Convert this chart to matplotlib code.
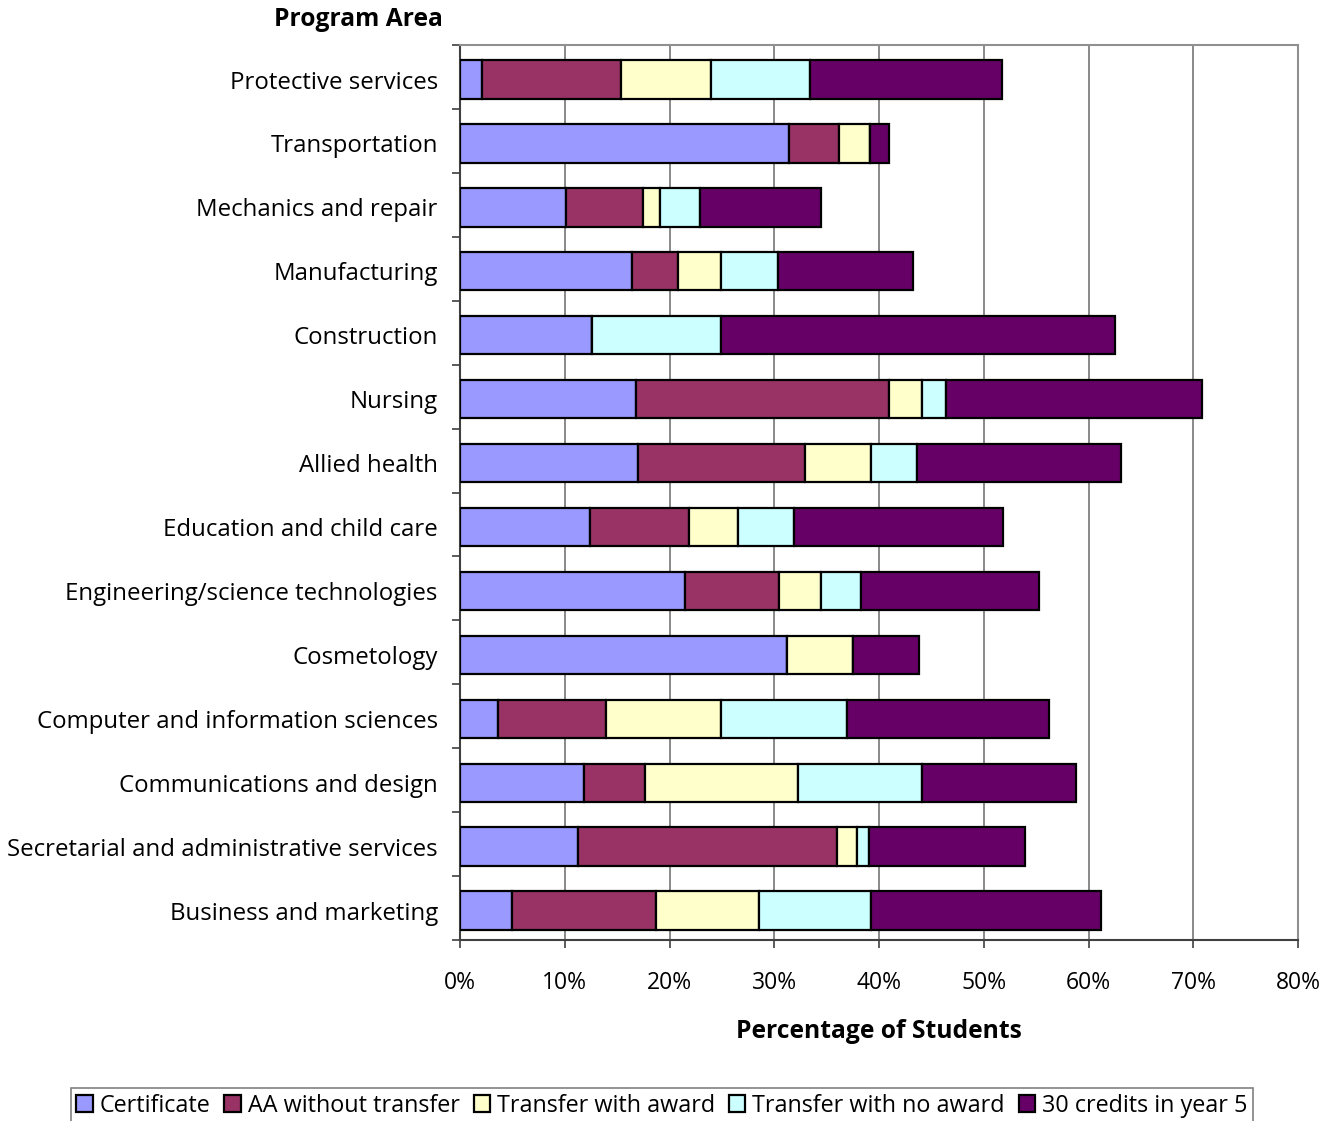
import matplotlib
matplotlib.use("Agg")
import matplotlib.pyplot as plt
import numpy as np

categories = ["Protective services", "Transportation", "Mechanics and repair", "Manufacturing",
              "Construction", "Nursing", "Allied health", "Education and child care",
              "Engineering/science technologies", "Cosmetology", "Computer and information sciences",
              "Communications and design", "Secretarial and administrative services", "Business and marketing"]

certificate = [2.1, 31.4, 10.1, 16.4, 12.6, 16.8, 17.0, 12.4, 21.5, 31.2, 3.6, 11.8, 11.3, 5.0]
aa_without_transfer = [13.3, 4.8, 7.4, 4.4, 0.0, 24.2, 15.9, 9.5, 9.0, 0.0, 10.3, 5.9, 24.7, 13.7]
transfer_with_award = [8.6, 2.9, 1.6, 4.1, 0.0, 3.1, 6.3, 4.6, 4.0, 6.3, 11.0, 14.6, 1.9, 9.8]
transfer_no_award = [9.4, 0.0, 3.8, 5.5, 12.3, 2.3, 4.4, 5.4, 3.8, 0.0, 12.0, 11.8, 1.1, 10.7]
credits_30 = [18.3, 1.9, 11.6, 12.8, 37.6, 24.4, 19.5, 19.9, 17.0, 6.3, 19.3, 14.7, 14.9, 22.0]

series_names = ["Certificate", "AA without transfer", "Transfer with award", "Transfer with no award", "30 credits in year 5"]
series_colors = ["#9999FF", "#993366", "#FFFFCC", "#CCFFFF", "#660066"]
x_ticks = [0, 10, 20, 30, 40, 50, 60, 70, 80]

plt.rcParams['font.family'] = ['Open Sans', 'DejaVu Sans']

fig = plt.figure(figsize=(13.39, 11.21), dpi=100)
ax = fig.add_axes([460/1339, (1121-940)/1121, (1298-460)/1339, (940-45)/1121])

y = np.arange(len(categories))
yb = y + 0.04
left = np.zeros(len(categories))
series = [certificate, aa_without_transfer, transfer_with_award, transfer_no_award, credits_30]
for name, vals, col in zip(series_names, series, series_colors):
    vals = np.array(vals)
    ax.barh(yb, vals, left=left, height=0.6, color=col, edgecolor="black", linewidth=1.6,
            label=name, zorder=3)
    left = left + vals

ax.set_xlim(0, 80)
ax.set_ylim(len(categories) - 0.5, -0.5)
ax.set_xticks(x_ticks)
ax.set_xticklabels([f"{v}%" for v in x_ticks], fontsize=16.5)
ax.xaxis.grid(True, color="#808080", linewidth=1.3, zorder=0)
ax.set_yticks(yb)
ax.set_yticklabels(categories, fontsize=17.3)
ax.tick_params(axis='y', length=0, pad=16)
ax.set_yticks(np.arange(-0.5, len(categories), 1), minor=True)
ax.tick_params(axis='y', which='minor', length=6, width=1.2, color="#404040")
ax.tick_params(axis='x', length=6, width=1.2, color="#404040", pad=16)

for s in ["top", "right"]:
    ax.spines[s].set_color("#909090")
    ax.spines[s].set_linewidth(1.5)
for s in ["left", "bottom"]:
    ax.spines[s].set_color("#404040")
    ax.spines[s].set_linewidth(1.5)

fig.text(358/1339, 1 - 20/1121, "Program Area", ha="center", va="center", fontsize=17.7, fontweight="bold")
fig.text(879/1339, 1 - 1032/1121, "Percentage of Students", ha="center", va="center", fontsize=17.7, fontweight="bold")

leg = fig.legend(loc="upper center", bbox_to_anchor=(662/1339, 1 - 1076/1121), ncol=5, fontsize=16.8,
                 frameon=True, fancybox=False, edgecolor="#606060", handlelength=0.7, handleheight=0.7,
                 handletextpad=0.3, columnspacing=0.6, borderpad=0.25)
leg.get_frame().set_linewidth(1.2)

fig.savefig("out.png", dpi=100)
